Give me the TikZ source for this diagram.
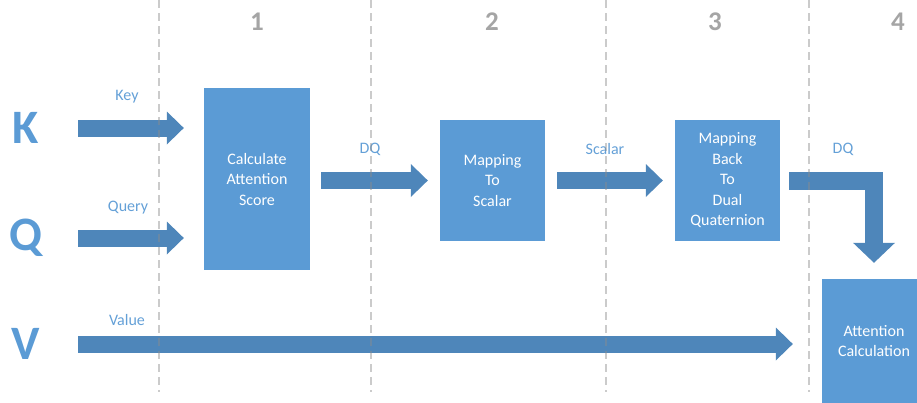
\documentclass[tikz,border=0pt]{standalone}
\usepackage{fontspec}
\setmainfont{Carlito}
\usetikzlibrary{arrows.meta}
\definecolor{boxblue}{RGB}{91,155,213}
\definecolor{arrowblue}{RGB}{78,134,186}
\definecolor{labelblue}{RGB}{100,160,215}
\definecolor{stepgray}{RGB}{165,165,165}
\definecolor{laneline}{RGB}{140,140,140}

\tikzset{
  stage/.style={fill=boxblue, text=white, align=center, inner sep=0pt, font=\fontsize{16}{20.5}\selectfont},
  letter/.style={text=boxblue, font=\fontsize{48}{48}\selectfont\bfseries},
  tag/.style={text=labelblue, font=\fontsize{16}{19}\selectfont},
  stepnum/.style={text=stepgray, font=\fontsize{27}{27}\selectfont\bfseries},
  fat/.style={draw=arrowblue, line width=17pt, -{Triangle[width=33pt,length=17pt,line width=0pt 0 0]}},
  lane/.style={draw=laneline, opacity=0.45, line width=1.2pt, dash pattern=on 8pt off 5pt},
}

\begin{document}
\begin{tikzpicture}[x=1pt,y=-1pt]
			%%%%% FRAME %%%%%
			\useasboundingbox (0,0) rectangle (917,402);
			\clip (0,0) rectangle (917,402);
			
			%%%%% INPUTS %%%%%
			\node[letter] (K) at (26,128) {K};
			\node[letter] (Q) at (26,238) {Q};
			\node[letter] (V) at (26,344) {V};
			
			\node[tag] (lblkey) at (127,97) {Key};
			\node[tag] (lblquery) at (128,208) {Query};
			\node[tag] (lblvalue) at (127,320) {Value};
			
			%%%%% STAGES %%%%%
			\node[stage, minimum width=106pt, minimum height=182pt] (calc) at (257,179) {Calculate\\Attention\\Score};
			\node[stage, minimum width=105pt, minimum height=121pt] (ms) at (492.5,180.5) {Mapping\\To\\Scalar};
			\node[stage, minimum width=105pt, minimum height=121pt] (bk) at (727.5,180.5) {Mapping\\Back\\To\\Dual\\Quaternion};
			\node[stage, minimum width=104pt, minimum height=124pt] (ac) at (874,341) {Attention\\Calculation};
			
			\node[tag] (lbldq) at (370,149) {DQ};
			\node[tag] (lblscalar) at (605,149) {Scalar};
			\node[tag] (lbldqb) at (843,149) {DQ};
			
			%%%%% ARROWS %%%%%
			\draw[fat] ([xshift=52pt]K.center) -- ([xshift=-20pt]K.center -| calc.west);
			\draw[fat] ([xshift=52pt]Q.center) -- ([xshift=-20pt]Q.center -| calc.west);
			\draw[fat] ([xshift=52pt]V.center) -- ([xshift=-29pt]V.center -| ac.west);
			
			\draw[fat] ([xshift=11pt]calc.east |- ms.west) -- ([xshift=-12pt]ms.west);
			\draw[fat] ([xshift=12pt]ms.east) -- ([xshift=-12pt]bk.west);
			\draw[fat, line width=18pt, line join=miter, -{Triangle[width=42pt,length=20pt,line width=0pt 0 0]}] ([xshift=9pt]bk.east) -| ([yshift=16pt]ac.north);
			
			%%%%% LANES %%%%%
			\foreach \x in {159,371,606,809}
				\draw[lane] (\x,0) -- (\x,392);
			
			\node[stepnum] (s1) at (257,22) {1};
			\node[stepnum] (s2) at (492,22) {2};
			\node[stepnum] (s3) at (715,22) {3};
			\node[stepnum] (s4) at (898,22) {4};
			
			%%%%% END %%%%%
		\end{tikzpicture}
\end{document}
